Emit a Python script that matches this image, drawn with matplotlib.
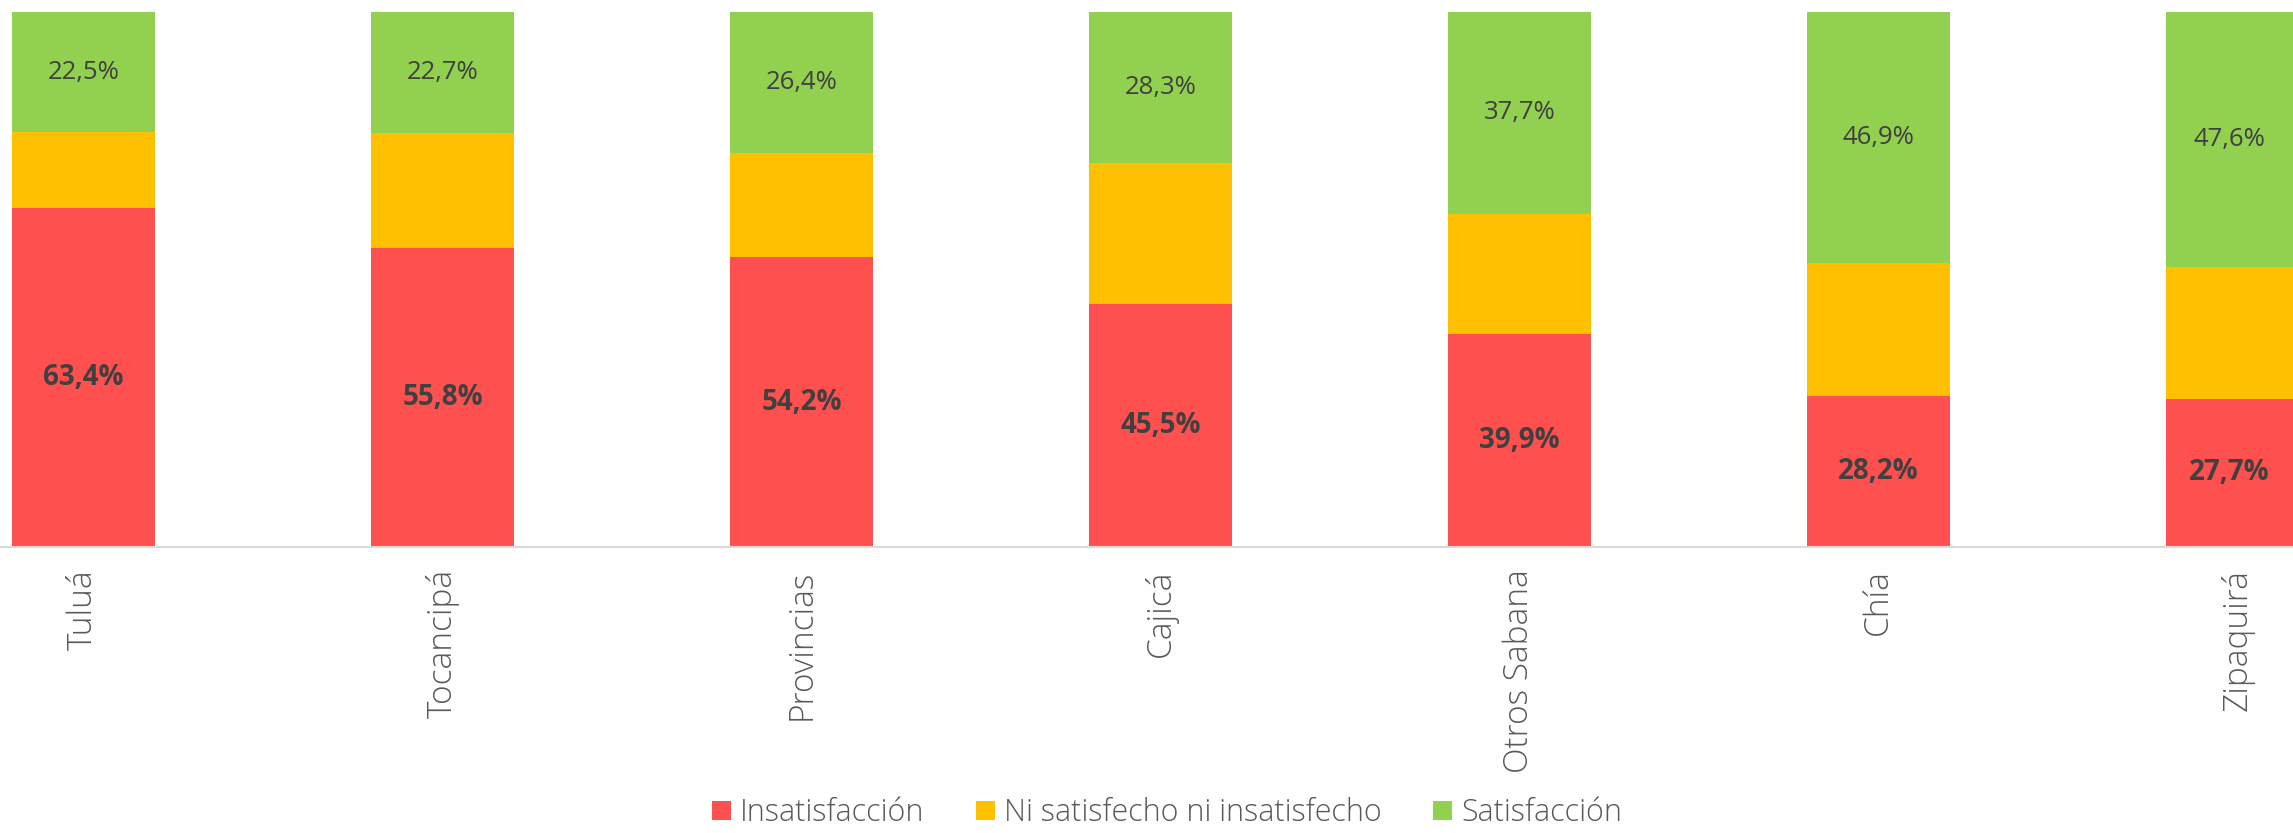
import matplotlib
matplotlib.use('Agg')
import matplotlib.pyplot as plt
import numpy as np

# Satisfaction by municipality (percent of respondents)
cities = ['Tuluá', 'Tocancipá', 'Provincias', 'Cajicá', 'Otros Sabana', 'Chía', 'Zipaquirá']
insatisfaccion = [63.4, 55.8, 54.2, 45.5, 39.9, 28.2, 27.7]
neutral = [14.1, 21.5, 19.4, 26.2, 22.4, 24.9, 24.7]
satisfaccion = [22.5, 22.7, 26.4, 28.3, 37.7, 46.9, 47.6]

series_names = ['Insatisfacción', 'Ni satisfecho ni insatisfecho', 'Satisfacción']
colors = ['#FF5050', '#FFC000', '#92D050']

label_font = 'Open Sans'
text_gray = '#595959'
value_gray = '#404040'

fig = plt.figure(figsize=(22.93, 8.33), dpi=100)
ax = fig.add_axes([0, 1 - 547 / 833, 1, 535 / 833])

x = np.arange(len(cities))
width = 0.398

bottom = np.zeros(len(cities))
bars = []
for vals, color, name in zip([insatisfaccion, neutral, satisfaccion], colors, series_names):
    b = ax.bar(x, vals, width, bottom=bottom, color=color, label=name, linewidth=0)
    bars.append(b)
    bottom = bottom + np.array(vals)

# value labels: bold for insatisfaccion, normal for satisfaccion
ax.bar_label(bars[0], labels=[f'{v:.1f}%'.replace('.', ',') for v in insatisfaccion],
             label_type='center', fontsize=20, fontweight='bold', color=value_gray,
             family=label_font)
ax.bar_label(bars[2], labels=[f'{v:.1f}%'.replace('.', ',') for v in satisfaccion],
             label_type='center', fontsize=18.5, color=value_gray, family=label_font)

ax.set_xlim(-83.5 / 359, (2293 - 83.5) / 359)
ax.set_ylim(0, 100)

ax.set_xticks(x)
ax.set_xticklabels(cities, rotation=90, fontsize=24, color=text_gray,
                   family=label_font, fontweight='light')
ax.tick_params(axis='x', length=0, pad=16)
ax.set_yticks([])

for side in ['top', 'right', 'left']:
    ax.spines[side].set_visible(False)
ax.spines['bottom'].set_color('#D9D9D9')
ax.spines['bottom'].set_linewidth(1.5)

leg = fig.legend(loc='center', bbox_to_anchor=(0.509, 1 - 813 / 833), ncol=3, frameon=False,
                 handlelength=0.6, handleheight=0.6, handletextpad=0.3, columnspacing=1.7,
                 borderpad=0.2,
                 prop={'family': label_font, 'size': 22, 'weight': 'light'})
for t in leg.get_texts():
    t.set_color(text_gray)

fig.savefig('out.png', dpi=100)
